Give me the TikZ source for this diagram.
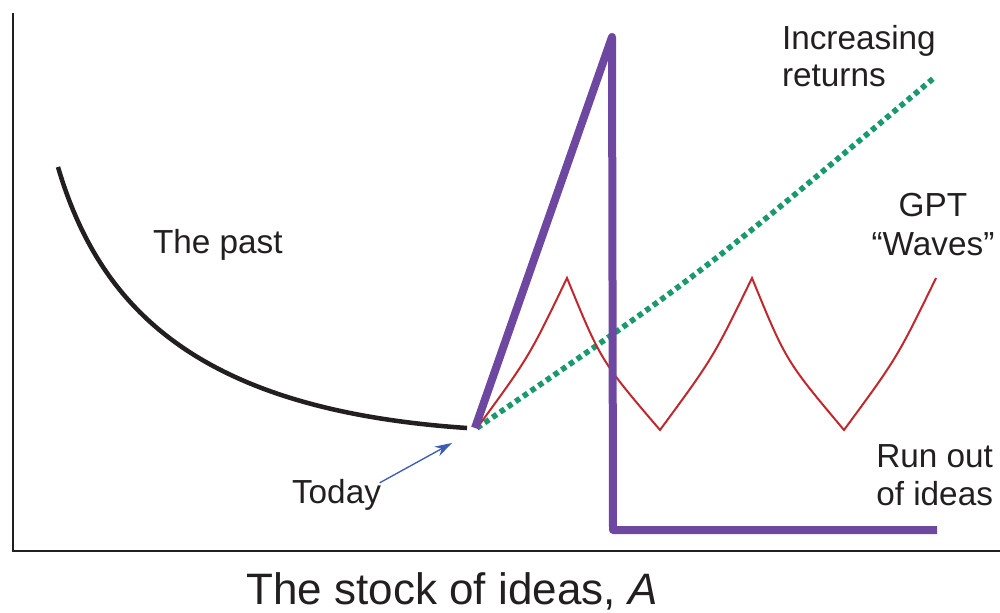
\documentclass[tikz,border=0pt]{standalone}
\usepackage{fontspec}
\setmainfont{Liberation Sans}
\usetikzlibrary{arrows.meta}
\definecolor{ink}{HTML}{231F20}
\definecolor{gptpurple}{HTML}{6E48A0}
\definecolor{irgreen}{HTML}{1A9A6C}
\definecolor{wavered}{HTML}{C0282D}
\definecolor{todayblue}{HTML}{3A5CB8}
\tikzset{
  lbl/.style={inner sep=0pt, outer sep=0pt, text=ink, font=\fontsize{25}{30}\selectfont},
  axlbl/.style={inner sep=0pt, outer sep=0pt, text=ink, font=\fontsize{33}{40}\selectfont},
  axisline/.style={draw=ink, line width=2pt},
  pastcurve/.style={draw=ink, line width=3.4pt},
  purplecurve/.style={draw=gptpurple, line width=6pt, line join=round},
  greencurve/.style={draw=irgreen, line width=4.2pt, dash pattern=on 4pt off 3pt},
  redcurve/.style={draw=wavered, line width=1.5pt, line join=miter},
  todayarrow/.style={draw=todayblue, line width=1pt, -{Stealth[length=13pt,width=8pt]}}
}
\begin{document}
\begin{tikzpicture}[x=0.75pt,y=-0.75pt]
\useasboundingbox (0,0) rectangle (1000,613);
% axes
\coordinate (ytop) at (13,13);
\coordinate (origin) at (13,551);
\coordinate (xend) at (1000,551);
\draw[axisline] (ytop) -- (origin) -- (xend);
% key points
\coordinate (paststart) at (58,167);
\coordinate (pastend) at (467,428);
\coordinate (today) at (477,428);
% the past
\draw[pastcurve] (paststart) .. controls (100,310) and (200,410) .. (pastend);
% increasing returns (green dotted)
\coordinate (irend) at (935,77);
\draw[greencurve] (today) .. controls (700,275) .. (irend);
% GPT waves (red)
\coordinate (p1) at (567,278);
\coordinate (t1) at (660,430);
\coordinate (p2) at (752,278);
\coordinate (t2) at (844,430);
\coordinate (wend) at (936,278);
\draw[redcurve] (today) .. controls (529,357) .. (p1)
  .. controls (601,361) .. (t1)
  .. controls (713,358) .. (p2)
  .. controls (786,361) .. (t2)
  .. controls (897,358) .. (wend);
% run out of ideas (purple)
\coordinate (ptop) at (612,37);
\coordinate (pbot) at (613,530);
\coordinate (pend) at (937,530);
\draw[purplecurve] (475,428) -- (ptop) -- (pbot) -- (pend);
% labels
\node[lbl, anchor=base west] (thepast) at (153,253) {The past};
\node[lbl, anchor=base west] (inc1) at (782,50) {Increasing};
\node[lbl, anchor=base west] (inc2) at (782,87) {returns};
\node[lbl, anchor=base] (gpt1) at (933,217) {GPT};
\node[lbl, anchor=base] (gpt2) at (933,255) {“Waves”};
\node[lbl, anchor=base east] (run1) at (993,467) {Run out};
\node[lbl, anchor=base east] (run2) at (993,505) {of ideas};
\node[lbl, anchor=base west] (todaylbl) at (292,503) {Today};
\node[axlbl, anchor=base] (xlabel) at (452,604) {The stock of ideas, \textit{A}};
% today arrow
\coordinate (todaytip) at (452,443);
\draw[todayarrow] ([shift={(-1pt,-3pt)}]todaylbl.north east) -- (todaytip);
\end{tikzpicture}
\end{document}
